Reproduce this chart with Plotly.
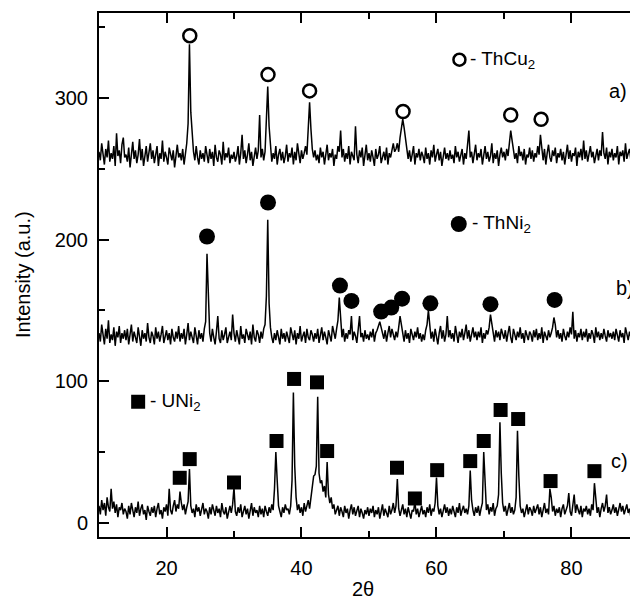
import numpy as np
import plotly.graph_objects as go

# sampling grid of the diffraction patterns (2theta, degrees)
two_theta = np.round(10 + 0.2 * np.arange(400), 1)

# a) ThCu2 pattern
int_a = [
    262,256,268,259,253,264,258,270,255,261,257,266,252,275,259,263,254,267,272,258,
    260,255,265,251,262,269,257,263,254,260,271,256,264,252,259,266,255,261,268,257,
    263,254,259,266,252,261,257,270,255,262,258,253,265,260,256,263,251,259,267,258,
    261,256,264,253,259,268,282,338,290,272,262,256,266,258,253,263,257,261,255,266,
    259,254,264,257,262,252,267,258,255,263,260,253,269,256,261,258,265,254,260,257,
    262,255,259,266,253,261,274,257,263,254,260,268,256,262,252,259,265,257,263,288,
    258,264,256,262,285,308,280,263,255,261,257,266,253,260,264,256,262,254,259,267,
    255,261,258,265,253,262,256,268,259,254,263,257,261,266,260,282,297,278,264,258,
    263,256,260,254,265,258,262,253,259,267,256,261,258,264,252,260,257,266,262,277,
    258,264,255,261,257,266,253,262,259,256,280,260,254,263,258,265,252,260,267,256,
    261,255,263,258,252,264,257,260,266,254,259,262,256,265,253,261,258,264,268,262,
    264,268,262,272,278,285,279,270,263,257,263,255,260,266,253,261,258,264,256,262,
    259,254,265,257,261,253,263,258,267,255,260,264,256,262,252,259,265,257,261,256,
    263,257,260,254,266,258,262,255,259,264,253,261,257,265,277,258,262,254,260,267,
    256,261,258,264,253,260,266,257,262,255,259,268,254,261,257,263,252,260,265,258,
    262,256,264,259,268,277,270,263,257,261,254,266,259,262,256,264,253,260,258,265,
    257,263,255,261,258,266,260,274,262,256,264,253,261,267,258,255,263,259,265,254,
    261,258,264,256,262,253,260,267,257,263,255,261,259,265,252,262,258,264,256,270,
    257,263,255,261,266,258,262,254,260,264,256,263,259,276,261,257,265,253,262,258,
    264,256,261,258,266,253,262,259,263,255,268,257,261,264,256,260,263,258,262,257,
]

# b) ThNi2 pattern
int_b = [
    134,128,140,131,126,137,130,143,127,133,129,138,125,135,131,139,127,134,130,136,
    129,137,126,133,140,128,135,131,127,138,132,125,136,130,134,128,141,131,127,135,
    132,126,138,130,135,128,133,139,127,131,136,129,134,126,137,131,128,135,130,139,
    128,134,130,137,126,133,141,129,135,131,127,138,132,126,136,130,134,128,137,142,
    190,153,134,128,137,131,126,135,146,130,127,136,129,133,138,127,132,135,129,147,
    134,128,136,131,126,139,130,133,127,137,132,129,135,126,140,131,128,136,133,127,
    135,130,137,140,160,214,155,138,131,127,134,129,136,132,126,137,130,134,128,135,
    131,127,138,133,129,136,126,134,130,139,128,132,135,127,137,131,129,136,133,128,
    134,130,137,127,133,138,129,135,131,126,136,132,128,139,133,130,137,143,159,142,
    131,137,128,134,130,136,133,146,129,135,132,127,138,146,131,134,128,136,130,133,
    129,135,131,137,128,134,136,140,142,138,133,130,136,128,134,139,131,137,133,129,
    135,131,138,146,140,133,128,136,130,134,127,137,132,129,135,131,138,130,134,128,
    133,129,136,140,150,141,130,135,128,137,132,126,134,139,130,136,128,133,146,131,
    136,130,134,128,139,132,127,135,131,137,129,134,140,130,136,128,133,138,131,135,
    129,135,131,138,127,134,130,136,133,138,147,140,132,128,136,131,135,129,137,133,
    130,136,128,134,139,131,127,137,133,129,135,131,138,130,134,127,136,132,129,135,
    133,128,136,131,137,129,134,130,138,127,135,132,129,136,131,134,138,145,140,131,
    136,130,134,128,137,132,129,135,131,138,133,149,130,136,128,134,131,137,129,135,
    131,137,128,134,130,136,133,127,138,131,135,129,134,130,137,132,128,136,131,134,
    130,135,129,137,132,128,136,131,134,127,138,132,129,135,131,136,130,134,128,133,
]

# c) UNi2 pattern
int_c = [
    12,6,16,9,14,5,18,11,8,24,10,15,7,13,4,11,9,14,6,10,
    8,3,12,6,14,9,4,11,7,15,5,10,13,6,9,2,12,8,5,11,
    7,12,4,10,14,6,9,3,11,8,13,5,24,9,6,12,16,8,13,10,
    22,14,9,13,6,11,15,38,12,7,10,4,13,8,11,5,9,14,6,10,
    8,3,11,6,13,9,5,12,7,10,4,14,8,6,11,3,9,12,7,13,
    25,8,5,11,7,13,4,9,12,6,10,3,8,14,5,11,7,9,4,12,
    6,10,4,12,8,5,11,7,13,9,24,50,30,12,8,4,11,7,13,9,
    10,6,12,30,92,40,18,9,13,7,11,5,14,8,12,16,10,19,24,33,
    34,40,89,35,28,30,22,26,18,43,20,14,18,10,13,6,9,12,5,11,
    8,4,12,7,10,3,9,13,6,11,5,8,12,4,10,7,3,9,6,11,
    5,10,7,12,4,9,6,11,3,8,13,5,10,7,4,12,6,9,14,7,
    12,31,10,5,9,13,6,10,4,11,7,3,9,8,15,6,10,4,8,12,
    6,9,4,11,7,13,5,10,8,14,32,12,6,10,4,9,13,7,11,5,
    10,6,12,8,4,11,7,14,5,9,12,7,10,6,12,37,16,9,5,11,
    7,12,5,10,14,50,22,9,13,6,11,8,14,5,10,12,20,71,35,14,
    8,12,5,10,14,7,11,6,9,18,65,33,12,7,10,4,9,13,6,11,
    9,5,12,7,10,13,6,11,4,9,14,7,10,6,24,18,8,12,5,10,
    7,11,4,10,13,6,9,12,21,8,5,11,20,7,13,9,6,12,4,10,
    8,12,6,10,5,13,9,28,16,7,11,4,10,14,8,12,20,7,11,6,
    9,13,7,11,5,10,14,8,12,6,9,13,7,10,4,11,8,12,6,10,
]

# phase reflection markers
thcu2_x = [23.45, 35.04, 41.2, 55.05, 71.0, 75.5]
thcu2_y = [344, 316.5, 305, 290.5, 288, 285]
thni2_x = [26.0, 35.04, 45.7, 47.4, 51.8, 53.3, 54.9, 59.1, 68.0, 77.5]
thni2_y = [202.2, 226.2, 167.5, 156.7, 149.2, 152, 158.3, 155, 154.4, 157.4]
uni2_x = [21.96, 23.44, 30.0, 36.3, 38.9, 42.3, 43.8, 54.15, 56.8, 60.1, 65.0, 67.0, 69.5, 72.1, 76.9, 83.4]
uni2_y = [31.8, 45, 28.5, 57.8, 101.6, 99.2, 50.7, 38.9, 17.2, 37.2, 43.6, 57.8, 79.7, 73.3, 29.5, 36.5]

phase_labels = ["- ThCu<sub>2</sub>", "- ThNi<sub>2</sub>", "- UNi<sub>2</sub>"]
pattern_labels = ["a)", "b)", "c)"]

FONT = "Arial, Liberation Sans, Helvetica, sans-serif"

fig = go.Figure()
for ys in (int_a, int_b, int_c):
    fig.add_trace(go.Scatter(x=two_theta, y=ys, mode="lines",
                             line=dict(color="black", width=1.5), showlegend=False))

fig.add_trace(go.Scatter(x=thcu2_x, y=thcu2_y, mode="markers", showlegend=False,
                         marker=dict(symbol="circle-open", size=13, color="black",
                                     line=dict(width=2.5, color="black"))))
fig.add_trace(go.Scatter(x=thni2_x, y=thni2_y, mode="markers", showlegend=False,
                         marker=dict(symbol="circle", size=16, color="black")))
fig.add_trace(go.Scatter(x=uni2_x, y=uni2_y, mode="markers", showlegend=False,
                         marker=dict(symbol="square", size=14, color="black")))

# in-plot legend symbols
fig.add_trace(go.Scatter(x=[63.4], y=[327], mode="markers", showlegend=False,
                         marker=dict(symbol="circle-open", size=12, color="black",
                                     line=dict(width=2.5, color="black"))))
fig.add_trace(go.Scatter(x=[63.3], y=[211], mode="markers", showlegend=False,
                         marker=dict(symbol="circle", size=16, color="black")))
fig.add_trace(go.Scatter(x=[15.8], y=[85.5], mode="markers", showlegend=False,
                         marker=dict(symbol="square", size=14, color="black")))

annos = []
for x, y, t in [(64.7, 327, phase_labels[0]), (64.9, 211, phase_labels[1]), (17.3, 85.5, phase_labels[2])]:
    annos.append(dict(x=x, y=y, xref="x", yref="y", text=t, showarrow=False,
                      xanchor="left", yanchor="middle", font=dict(family=FONT, size=19, color="black")))
# pattern labels sit at the (cropped) right edge of the frame
for xp, y, t in [(0.999, 305, pattern_labels[0]), (1.012, 166, pattern_labels[1]), (1.0, 44, pattern_labels[2])]:
    annos.append(dict(x=xp, y=y, xref="paper", yref="y", text=t, showarrow=False,
                      xanchor="right", yanchor="middle", font=dict(family=FONT, size=20, color="black")))
annos.append(dict(x=-0.143, y=0.5, xref="paper", yref="paper", text="Intensity (a.u.)",
                  textangle=-90, showarrow=False, xanchor="center", yanchor="middle",
                  font=dict(family=FONT, size=20, color="black")))
annos.append(dict(x=0.497, y=-0.1, xref="paper", yref="paper", text="2θ",
                  showarrow=False, xanchor="center", yanchor="middle",
                  font=dict(family=FONT, size=20, color="black")))

axis_common = dict(showgrid=False, zeroline=False, showline=True, linecolor="black",
                   linewidth=2, ticks="inside", ticklen=10, tickwidth=2, tickcolor="black",
                   tickfont=dict(family=FONT, size=20, color="black"))

fig.update_layout(
    width=630, height=600,
    margin=dict(l=99, r=0, t=13, b=63),
    plot_bgcolor="white", paper_bgcolor="white",
    annotations=annos,
    xaxis=dict(range=[10, 88.67], tickvals=[20, 40, 60, 80], mirror="ticks",
               minor=dict(dtick=10, tick0=10, ticks="inside", ticklen=6, tickwidth=2, tickcolor="black"),
               ticklabelstandoff=12, **axis_common),
    yaxis=dict(range=[-10, 360], tickvals=[0, 100, 200, 300], mirror=False,
               minor=dict(dtick=50, tick0=0, ticks="inside", ticklen=6, tickwidth=2, tickcolor="black"),
               ticklabelstandoff=5, **axis_common),
)

fig.write_html("out.html", config={"displayModeBar": False},
               post_script="document.body.style.margin='0';document.body.style.overflow='hidden';")
